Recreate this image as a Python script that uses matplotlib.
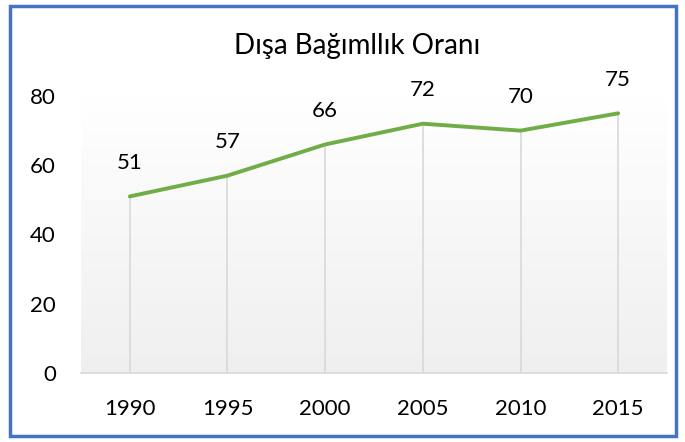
import numpy as np
import matplotlib.pyplot as plt
from matplotlib.patches import Rectangle
from matplotlib.colors import LinearSegmentedColormap

years = ['1990', '1995', '2000', '2005', '2010', '2015']
values = [51, 57, 66, 72, 70, 75]
yticks = [0, 20, 40, 60, 80]

plt.rcParams['font.family'] = ['Lato', 'DejaVu Sans']

fig = plt.figure(figsize=(6.85, 4.42), dpi=100)
ax = fig.add_axes([81 / 685, 1 - 373 / 442, 586 / 685, 277 / 442])

x = np.arange(len(years))
ax.set_xlim(-0.5, len(years) - 0.5)
ax.set_ylim(0, 80)

# faint gradient in the plot area (gray at bottom, white at top)
grad = np.linspace(0, 1, 256).reshape(-1, 1)
cmap = LinearSegmentedColormap.from_list('g', ['#efefef', '#ffffff'])
ax.imshow(grad, extent=[-0.5, len(years) - 0.5, 0, 80], aspect='auto',
          cmap=cmap, origin='lower', zorder=0)

# drop lines from each point to the axis
ax.vlines(x, 0, values, color='#d9d9d9', lw=1.2, zorder=1)

ax.plot(x, values, color='#70ad47', lw=2.8, solid_capstyle='round', zorder=3)
for xi, v in zip(x, values):
    ax.annotate(str(v), (xi, v), xytext=(0, 24), textcoords='offset points',
                ha='center', va='center', fontsize=16, color='#000000')

ax.set_xticks(x)
ax.set_xticklabels(years, fontsize=16)
ax.set_yticks(yticks)
ax.set_yticklabels([str(t) for t in yticks], fontsize=16)
ax.tick_params(length=0)
ax.tick_params(axis='x', pad=19)
ax.tick_params(axis='y', pad=18)
for s in ['top', 'right', 'left']:
    ax.spines[s].set_visible(False)
ax.spines['bottom'].set_color('#d9d9d9')
ax.spines['bottom'].set_linewidth(1.2)
ax.spines['bottom'].set_zorder(4)

fig.text(357 / 685, 1 - 46 / 442, 'Dışa Bağımllık Oranı', ha='center', va='center',
         fontsize=20)

fig.patches.append(Rectangle((10 / 685, 6 / 442), 666 / 685, 430 / 442, transform=fig.transFigure,
                             fill=False, edgecolor='#4472c4', lw=2.5))

fig.savefig('out.png', dpi=100)
